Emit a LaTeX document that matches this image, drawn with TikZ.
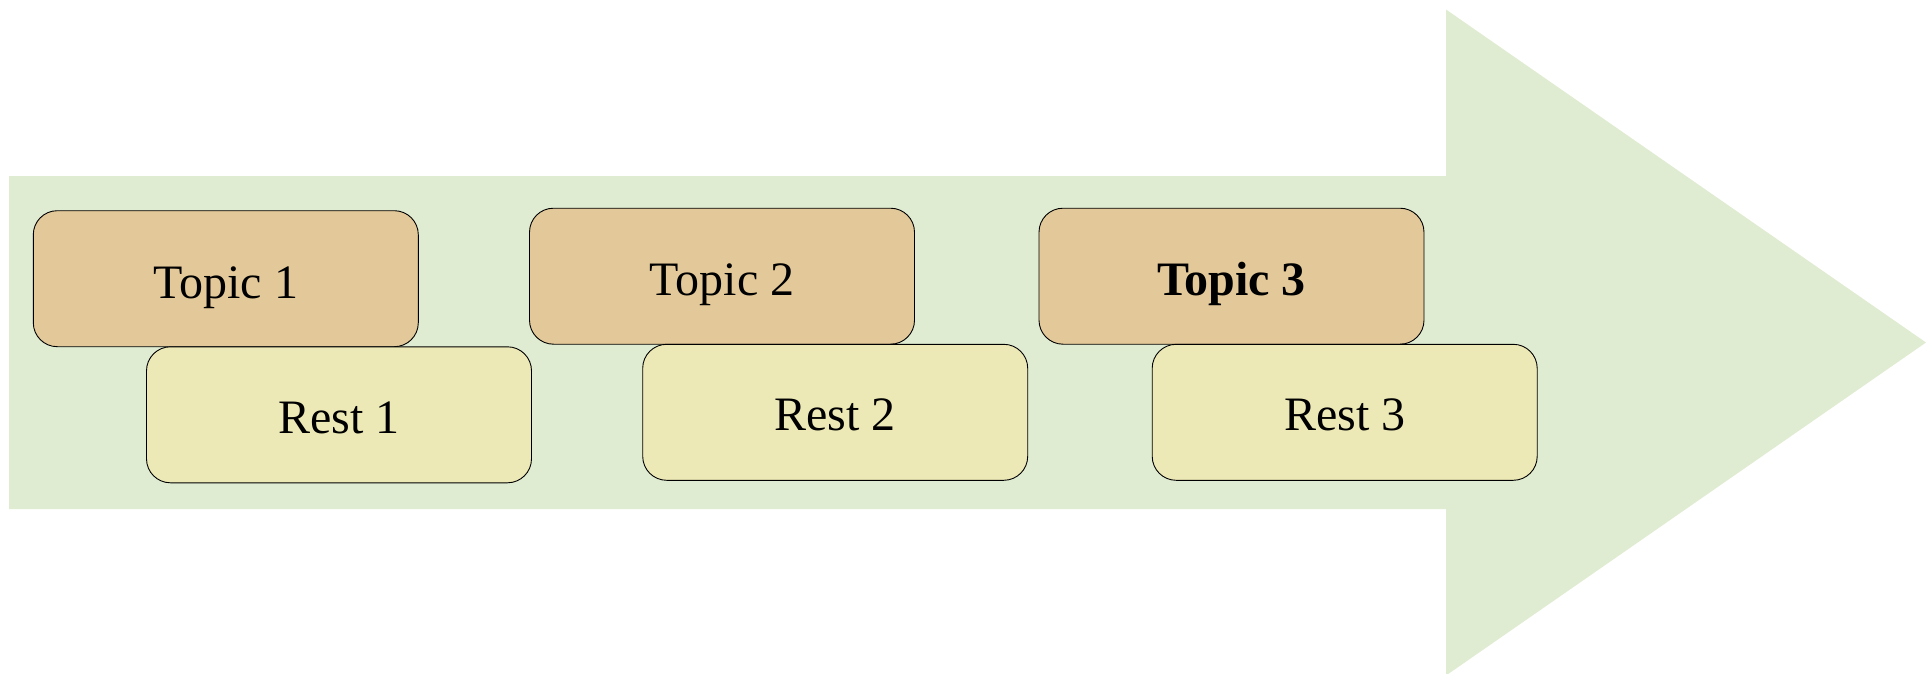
\documentclass[tikz,border=0pt]{standalone}
\usepackage{fontspec}
\setmainfont{Liberation Serif}
\definecolor{arrowgreen}{RGB}{224,236,210}
\definecolor{topicfill}{RGB}{227,201,153}
\definecolor{restfill}{RGB}{237,233,182}
\tikzset{
  topicbox/.style={draw=black, line width=0.9pt, fill=topicfill, rounded corners=24pt,
    minimum width=385pt, minimum height=136pt, inner sep=0pt},
  restbox/.style={draw=black, line width=0.9pt, fill=restfill, rounded corners=24pt,
    minimum width=385pt, minimum height=136pt, inner sep=0pt},
  boxtext/.style={anchor=base, inner sep=0pt, font=\fontsize{48}{54}\selectfont}
}
\begin{document}
\begin{tikzpicture}[x=1pt,y=-1pt]
\useasboundingbox (0,0) rectangle (1930,674);
\fill[arrowgreen] (9,176) -- (1446,176) -- (1446,9.5) -- (1926,342.5) -- (1446,675.5)
  -- (1446,509) -- (9,509) -- cycle;
% topic boxes
\node[topicbox] (t1) at (225.8,278.7) {};
\node[topicbox] (t2) at (722,276.2) {};
\node[topicbox] (t3) at (1231.5,276.2) {};
% rest boxes
\node[restbox] (r1) at (339,414.8) {};
\node[restbox] (r2) at (835.2,412.3) {};
\node[restbox] (r3) at (1344.7,412.3) {};
% texts
\node[boxtext] (t1l) at ([yshift=-19.5pt]t1.center) {Topic 1};
\node[boxtext] (t2l) at ([yshift=-19.5pt]t2.center) {Topic 2};
\node[boxtext] (t3l) at ([yshift=-19.5pt]t3.center) {\bfseries Topic 3};
\node[boxtext] (r1l) at ([yshift=-18.5pt]r1.center) {Rest 1};
\node[boxtext] (r2l) at ([yshift=-18.5pt]r2.center) {Rest 2};
\node[boxtext] (r3l) at ([yshift=-18.5pt]r3.center) {Rest 3};
\end{tikzpicture}
\end{document}
